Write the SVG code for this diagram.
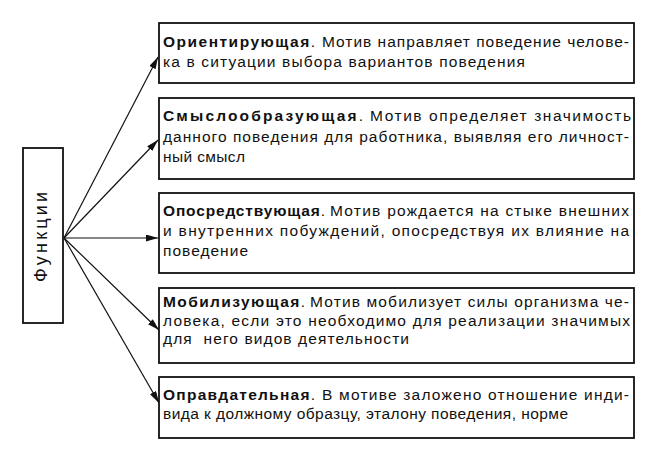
<svg xmlns="http://www.w3.org/2000/svg" width="659" height="450" viewBox="0 0 659 450">
<defs>
<style>
.box{fill:#fff;stroke:#111;stroke-width:1.8}
.t{font-family:"Liberation Sans",Arial,sans-serif;font-size:15.5px;fill:#111}
.b{font-weight:bold}
.c{stroke:#111;stroke-width:1.2;fill:none;marker-end:url(#ah)}
</style>
<marker id="ah" markerUnits="userSpaceOnUse" markerWidth="13" markerHeight="8" refX="12" refY="3.5" orient="auto">
<path d="M0,0 L12,3.5 L0,7 z" fill="#111"/>
</marker>
</defs>
<rect width="659" height="450" fill="#fff"/>
<g id="functions">
<rect class="box" x="23" y="148" width="40" height="175"/>
<text class="t" x="0" y="0" transform="translate(47,237) rotate(-90)" text-anchor="middle" style="font-size:18px" textLength="90" lengthAdjust="spacing">Функции</text>
</g>
<g id="connectors">
<line class="c" x1="64" y1="238" x2="158" y2="57"/>
<line class="c" x1="64" y1="238" x2="158" y2="140"/>
<line class="c" x1="64" y1="238" x2="158" y2="238"/>
<line class="c" x1="64" y1="238" x2="159" y2="330"/>
<line class="c" x1="64" y1="238" x2="159" y2="403"/>
</g>
<g id="n1">
<rect class="box" x="159" y="23" width="475" height="60"/>
<text class="t" x="163" y="46.5" textLength="152" lengthAdjust="spacing"><tspan class="b">Ориентирующая</tspan>.</text>
<text class="t" x="322" y="46.5" textLength="307" lengthAdjust="spacing">Мотив направляет поведение челове-</text>
<text class="t" x="163" y="67" textLength="362" lengthAdjust="spacing">ка в ситуации выбора вариантов поведения</text>
</g>
<g id="n2">
<rect class="box" x="159" y="98" width="475" height="81"/>
<text class="t" x="163" y="121" textLength="200" lengthAdjust="spacing"><tspan class="b">Смыслообразующая</tspan>.</text>
<text class="t" x="370" y="121" textLength="261" lengthAdjust="spacing">Мотив определяет значимость</text>
<text class="t" x="163" y="141.5" textLength="466" lengthAdjust="spacing">данного поведения для работника, выявляя его личност-</text>
<text class="t" x="163" y="162" textLength="82" lengthAdjust="spacing">ный смысл</text>
</g>
<g id="n3">
<rect class="box" x="159" y="193" width="475" height="80"/>
<text class="t" x="163" y="215.5" textLength="162" lengthAdjust="spacing"><tspan class="b">Опосредствующая</tspan>.</text>
<text class="t" x="330" y="215.5" textLength="299" lengthAdjust="spacing">Мотив рождается на стыке внешних</text>
<text class="t" x="163" y="236" textLength="466" lengthAdjust="spacing">и внутренних побуждений, опосредствуя их влияние на</text>
<text class="t" x="163" y="256" textLength="85" lengthAdjust="spacing">поведение</text>
</g>
<g id="n4">
<rect class="box" x="159" y="288" width="475" height="75"/>
<text class="t" x="163" y="307" textLength="142" lengthAdjust="spacing"><tspan class="b">Мобилизующая</tspan>.</text>
<text class="t" x="310" y="307" textLength="319" lengthAdjust="spacing">Мотив мобилизует силы организма че-</text>
<text class="t" x="163" y="326" textLength="467" lengthAdjust="spacing">ловека, если это необходимо для реализации значимых</text>
<text class="t" x="163" y="344" textLength="246" lengthAdjust="spacing" style="white-space:pre">для  него видов деятельности</text>
</g>
<g id="n5">
<rect class="box" x="159" y="377" width="475" height="61"/>
<text class="t" x="163" y="400" textLength="152" lengthAdjust="spacing"><tspan class="b">Оправдательная</tspan>.</text>
<text class="t" x="322" y="400" textLength="307" lengthAdjust="spacing">В мотиве заложено отношение инди-</text>
<text class="t" x="163" y="419" textLength="405" lengthAdjust="spacing">вида к должному образцу, эталону поведения, норме</text>
</g>
</svg>
